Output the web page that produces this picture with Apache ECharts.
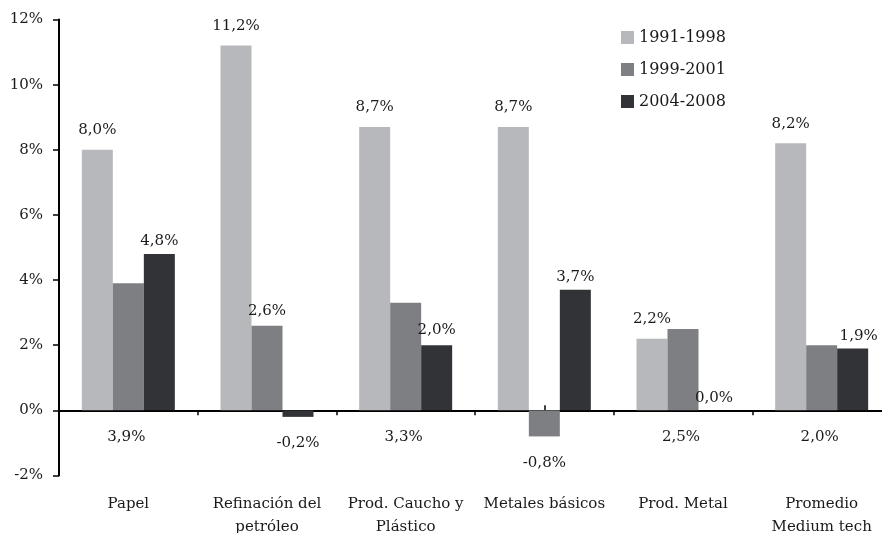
<!DOCTYPE html>
<html>
<head>
<meta charset="utf-8">
<script src="https://cdn.jsdelivr.net/npm/echarts@6/dist/echarts.min.js"></script>
<style>
  html, body { margin: 0; padding: 0; background: #fff; }
  #chart { width: 882px; height: 533px; }
</style>
</head>
<body>
<div id="chart"></div>
<script>
// datos
var categorias = ['Papel', 'Refinación del\npetróleo', 'Prod. Caucho y\nPlástico', 'Metales básicos', 'Prod. Metal', 'Promedio\nMedium tech'];
var periodos = ['1991-1998', '1999-2001', '2004-2008'];
var v1991 = [8.0, 11.2, 8.7, 8.7, 2.2, 8.2];
var v1999 = [3.9, 2.6, 3.3, -0.8, 2.5, 2.0];
var v2004 = [4.8, -0.2, 2.0, 3.7, 0.0, 1.9];
var yTicks = [-2, 0, 2, 4, 6, 8, 10, 12];

var fuente = 'DejaVu Serif';
var colores = ['#b7b8bc', '#7e7f83', '#323337'];

function fmt(p) {
  return p.value.toFixed(1).replace('.', ',') + '%';
}

// donde va cada etiqueta de la serie 1999-2001 (como en el original)
var modo1999 = ['eje', 'arriba', 'eje', 'fin', 'eje', 'eje'];

function etiqueta1999(m) {
  if (m === 'arriba') return { position: 'top', distance: 7 };
  if (m === 'fin') return { position: 'bottom', distance: 19 };
  return { position: 'insideBottom', distance: 0, offset: [-2, 34] };
}

function etiqueta2004(v, i) {
  if (v < 0) return { position: 'bottom', distance: 19 };
  // la ultima etiqueta esta algo corrida a la derecha
  return { position: 'top', distance: i === 2 ? 8 : 5, offset: [i === 5 ? 6 : 0, 0] };
}

var myChart = echarts.init(document.getElementById('chart'));

var labelBase = { show: true, formatter: fmt, fontFamily: fuente, fontSize: 15, color: '#1a1a1a' };

var option = {
  animation: false,
  textStyle: { fontFamily: fuente },
  grid: { left: 59, width: 832, top: 19.5, bottom: 57.5, containLabel: false, outerBoundsMode: 'none' },
  legend: {
    data: periodos,
    orient: 'vertical',
    left: 621,
    top: 29,
    padding: 0,
    itemWidth: 13,
    itemHeight: 13,
    itemGap: 15,
    icon: 'rect',
    textStyle: { fontFamily: fuente, fontSize: 16, color: '#1a1a1a', lineHeight: 17 }
  },
  xAxis: [
    {
      type: 'category',
      data: categorias,
      position: 'bottom',
      axisLine: { show: false, onZero: false },
      axisTick: { show: false },
      axisLabel: { interval: 0, margin: 17, lineHeight: 23, fontFamily: fuente, fontSize: 15, color: '#1a1a1a' }
    },
    {
      type: 'category',
      data: categorias,
      position: 'bottom',
      axisLine: { show: true, onZero: true, onZeroAxisIndex: 0, lineStyle: { color: '#000', width: 2 } },
      axisTick: { show: true, length: 5, lineStyle: { color: '#000', width: 1.5 } },
      axisLabel: { show: false }
    },
    {
      type: 'category',
      data: categorias,
      position: 'top',
      axisLine: { show: false, onZero: true, onZeroAxisIndex: 0 },
      axisTick: { show: true, alignWithLabel: true, length: 5, lineStyle: { color: '#000', width: 1.5 } },
      axisLabel: { show: false }
    }
  ],
  yAxis: {
    type: 'value',
    min: yTicks[0],
    max: yTicks[yTicks.length - 1],
    interval: yTicks[1] - yTicks[0],
    axisLine: { show: true, onZero: false, lineStyle: { color: '#000', width: 2 } },
    axisTick: { show: true, length: 6, lineStyle: { color: '#000', width: 1.5 } },
    splitLine: { show: false },
    axisLabel: { formatter: '{value}%', margin: 16, fontFamily: fuente, fontSize: 15, color: '#1a1a1a' }
  },
  series: [
    {
      name: periodos[0],
      type: 'bar',
      xAxisIndex: 0,
      data: v1991,
      barWidth: 31,
      barGap: '0%',
      itemStyle: { color: colores[0] },
      label: Object.assign({}, labelBase, { position: 'top', distance: 12 })
    },
    {
      name: periodos[1],
      type: 'bar',
      xAxisIndex: 0,
      data: v1999.map(function (v, i) {
        return { value: v, label: etiqueta1999(modo1999[i]) };
      }),
      barWidth: 31,
      barGap: '0%',
      itemStyle: { color: colores[1] },
      label: labelBase
    },
    {
      name: periodos[2],
      type: 'bar',
      xAxisIndex: 0,
      data: v2004.map(function (v, i) {
        return { value: v, label: etiqueta2004(v, i) };
      }),
      barWidth: 31,
      barGap: '0%',
      itemStyle: { color: colores[2] },
      label: labelBase
    }
  ]
};

myChart.setOption(option);
window.addEventListener('resize', function () {
  myChart.resize();
});
</script>
</body>
</html>
